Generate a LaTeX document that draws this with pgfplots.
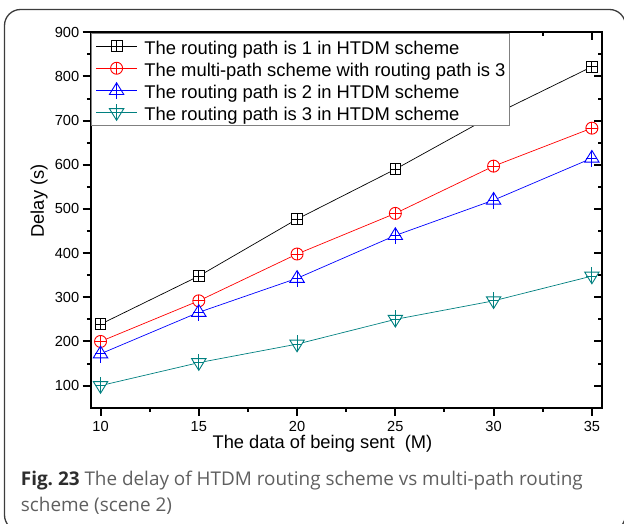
\documentclass[border=0pt]{standalone}
\usepackage{fontspec}
\setmainfont{Liberation Sans}
\newfontfamily\capfont{Open Sans}
\usepackage{pgfplots}
\pgfplotsset{compat=1.18}
\definecolor{tealc}{RGB}{0,128,128}
\definecolor{framec}{RGB}{60,60,60}
\definecolor{capgray}{RGB}{95,95,95}
\definecolor{capdark}{RGB}{45,45,45}
\definecolor{leggray}{RGB}{128,128,128}

\pgfdeclareplotmark{boxplus}{%
  \pgfpathrectangle{\pgfqpoint{-\pgfplotmarksize}{-\pgfplotmarksize}}{\pgfqpoint{2\pgfplotmarksize}{2\pgfplotmarksize}}%
  \pgfusepathqfillstroke
  \pgfpathmoveto{\pgfqpoint{-\pgfplotmarksize}{0pt}}\pgfpathlineto{\pgfqpoint{\pgfplotmarksize}{0pt}}%
  \pgfpathmoveto{\pgfqpoint{0pt}{-\pgfplotmarksize}}\pgfpathlineto{\pgfqpoint{0pt}{\pgfplotmarksize}}%
  \pgfusepathqstroke}
\pgfdeclareplotmark{circplus}{%
  \pgfpathcircle{\pgfpointorigin}{\pgfplotmarksize}%
  \pgfusepathqfillstroke
  \pgfpathmoveto{\pgfqpoint{-\pgfplotmarksize}{0pt}}\pgfpathlineto{\pgfqpoint{\pgfplotmarksize}{0pt}}%
  \pgfpathmoveto{\pgfqpoint{0pt}{-\pgfplotmarksize}}\pgfpathlineto{\pgfqpoint{0pt}{\pgfplotmarksize}}%
  \pgfusepathqstroke}
\pgfdeclareplotmark{triplus}{%
  \pgfpathmoveto{\pgfqpoint{0pt}{1.28\pgfplotmarksize}}%
  \pgfpathlineto{\pgfqpoint{-1.2\pgfplotmarksize}{-0.67\pgfplotmarksize}}%
  \pgfpathlineto{\pgfqpoint{1.2\pgfplotmarksize}{-0.67\pgfplotmarksize}}%
  \pgfpathclose
  \pgfusepathqfillstroke
  \pgfpathmoveto{\pgfqpoint{-0.9\pgfplotmarksize}{0pt}}\pgfpathlineto{\pgfqpoint{0.9\pgfplotmarksize}{0pt}}%
  \pgfpathmoveto{\pgfqpoint{0pt}{1.2\pgfplotmarksize}}\pgfpathlineto{\pgfqpoint{0pt}{-1.5\pgfplotmarksize}}%
  \pgfusepathqstroke}
\pgfdeclareplotmark{itriplus}{%
  \pgfpathmoveto{\pgfqpoint{0pt}{-1.28\pgfplotmarksize}}%
  \pgfpathlineto{\pgfqpoint{-1.2\pgfplotmarksize}{0.67\pgfplotmarksize}}%
  \pgfpathlineto{\pgfqpoint{1.2\pgfplotmarksize}{0.67\pgfplotmarksize}}%
  \pgfpathclose
  \pgfusepathqfillstroke
  \pgfpathmoveto{\pgfqpoint{-0.9\pgfplotmarksize}{0pt}}\pgfpathlineto{\pgfqpoint{0.9\pgfplotmarksize}{0pt}}%
  \pgfpathmoveto{\pgfqpoint{0pt}{-1.2\pgfplotmarksize}}\pgfpathlineto{\pgfqpoint{0pt}{1.5\pgfplotmarksize}}%
  \pgfusepathqstroke}

\pgfplotsset{
  common/.style={
    at={(90.7pt,115.3pt)}, anchor=south west,
    scale only axis, width=511pt, height=375.4pt,
    xmin=9.5, xmax=35.5, ymin=50, ymax=900,
    xtick={10,15,20,25,30,35}, ytick={100,200,300,400,500,600,700,800,900},
    minor x tick num=1, minor y tick num=1,
    axis line style={line width=2pt},
    major tick length=8pt, minor tick length=3.8pt,
    every tick/.style={black, line width=2pt},
  }
}

\begin{document}
\begin{tikzpicture}
\useasboundingbox (0pt,0pt) rectangle (624pt,523pt);
\draw[framec, line width=1.3pt, rounded corners=16pt] (4.5pt,-8pt) rectangle (625.5pt,513.5pt);

% inner ticks on top and right
\begin{axis}[common, xtick pos=right, ytick pos=right, tick align=inside,
  xticklabels={}, yticklabels={}]
\end{axis}

\begin{axis}[common, xtick pos=left, ytick pos=left, tick align=outside,
  /pgf/number format/assume math mode=true,
  ticklabel style={font=\fontsize{14.6pt}{16pt}\selectfont},
  xticklabel style={yshift=-2pt},
  xlabel={The data of being sent\ \ (M)},
  ylabel={Delay (s)},
  label style={font=\fontsize{18.3pt}{22pt}\selectfont},
  xlabel style={at={(axis description cs:0.4536,-0.108)}, anchor=base},
  ylabel style={at={(axis description cs:-0.0914,0.551)}, anchor=base},
  legend cell align=left,
  legend image code/.code={\draw[mark repeat=2,mark phase=2,#1] plot coordinates {(0pt,0pt) (20.5pt,0pt) (41pt,0pt)};},
  legend style={at={(0,1)}, anchor=north west, xshift=0.6pt, yshift=-0.6pt,
    draw=leggray, line width=0.9pt, fill=white,
    inner xsep=4pt, inner ysep=2pt, column sep=7pt, row sep=0.8pt,
    font=\fontsize{18.4pt}{22pt}\selectfont,
    nodes={inner sep=0pt, text height=19pt, text depth=2.4pt}},
]
\addplot[black, line width=0.7pt, mark=boxplus, mark size=5.35pt, mark options={fill=white, line width=0.9pt}]
  coordinates {(10,239) (15,348) (20,477) (25,590) (30,713) (35,822)};
\addlegendentry{The routing path is 1 in HTDM scheme}
\addplot[red, line width=0.7pt, mark=circplus, mark size=6pt, mark options={fill=white, line width=0.9pt}]
  coordinates {(10,200) (15,292) (20,398) (25,490) (30,597) (35,683)};
\addlegendentry{The multi-path scheme with routing path is 3}
\addplot[blue, line width=0.7pt, mark=triplus, mark size=6pt, mark options={fill=white, line width=0.9pt}]
  coordinates {(10,172) (15,266) (20,343) (25,440) (30,520) (35,615)};
\addlegendentry{The routing path is 2 in HTDM scheme}
\addplot[tealc, line width=0.7pt, mark=itriplus, mark size=6pt, mark options={fill=white, line width=0.9pt}]
  coordinates {(10,100) (15,152) (20,194) (25,250) (30,292) (35,348)};
\addlegendentry{The routing path is 3 in HTDM scheme}
\end{axis}

\node[anchor=base west, inner sep=0pt, text=capgray, font=\capfont\fontsize{18.9pt}{26pt}\selectfont]
  at (20.7pt,38pt) {\textcolor{capdark}{\bfseries Fig.~23} The delay of HTDM routing scheme vs multi-path routing};
\node[anchor=base west, inner sep=0pt, text=capgray, font=\capfont\fontsize{18.9pt}{26pt}\selectfont]
  at (20.7pt,11.3pt) {scheme (scene 2)};
\end{tikzpicture}
\end{document}
